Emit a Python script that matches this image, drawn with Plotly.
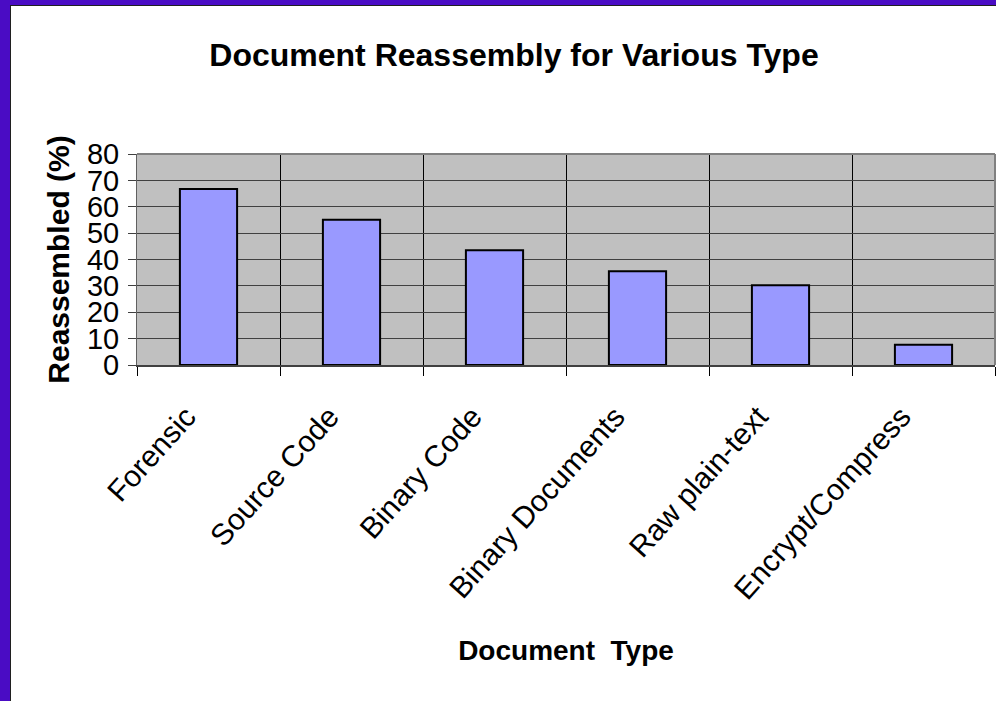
import plotly.graph_objects as go

categories = ["Forensic", "Source Code", "Binary Code", "Binary Documents", "Raw plain-text", "Encrypt/Compress"]
values = [66.7, 55.1, 43.5, 35.5, 30.2, 7.7]
y_ticks = [0, 10, 20, 30, 40, 50, 60, 70, 80]

FONT = "Liberation Sans, Arial, Helvetica, sans-serif"
W, H = 996, 701
L, R, T, B = 137, 1, 154, 336

fig = go.Figure()
fig.add_trace(go.Bar(
    x=categories, y=values, width=0.4,
    marker=dict(color="#9999FF", line=dict(color="black", width=2)),
))

fig.update_layout(
    width=W, height=H,
    margin=dict(l=L, r=R, t=T, b=B, autoexpand=False),
    paper_bgcolor="white", plot_bgcolor="#C0C0C0",
    showlegend=False,
    font=dict(family=FONT, color="black"),
    title=dict(text="<b>Document Reassembly for Various Type</b>",
               font=dict(size=32, family=FONT, color="black"),
               x=514 / W, xanchor="center", y=1 - 55 / H, yanchor="middle"),
)
fig.update_xaxes(
    type="category", range=[-0.5, 5.5], tickson="boundaries",
    showgrid=True, gridcolor="black", gridwidth=1,
    ticks="outside", ticklen=9, tickcolor="black", tickwidth=1,
    showline=True, linecolor="#404040", linewidth=2, mirror=False,
    tickangle=-48, tickfont=dict(size=30, family=FONT, color="black"),
    ticklabelstandoff=20, ticklabelshift=-22,
    title=dict(text="<b>Document  Type</b>", font=dict(size=28, family=FONT, color="black"), standoff=36),
    automargin=False,
)
fig.update_yaxes(
    range=[0, 80], tickvals=y_ticks,
    showgrid=True, gridcolor="#404040", gridwidth=1, zeroline=False,
    ticks="outside", ticklen=8, tickcolor="#404040", tickwidth=1,
    showline=True, linecolor="#606060", linewidth=1,
    tickfont=dict(size=29, family=FONT, color="black"),
    ticklabelstandoff=3,
    title=dict(text="<b>Reassembled (%)</b>", font=dict(size=30, family=FONT, color="black"), standoff=8),
    automargin=False,
)
# plot frame (top and right edges)
fig.add_shape(type="line", xref="paper", yref="paper", x0=0, x1=1, y0=1, y1=1,
              line=dict(color="#808080", width=2))
fig.add_shape(type="line", xref="paper", yref="paper", x0=1, x1=1, y0=0, y1=1,
              line=dict(color="#808080", width=2))

# slide decoration: purple strips on left and top edges
pw, ph = W - L - R, H - T - B
def px(x): return (x - L) / pw
def py(y): return 1 - (y - T) / ph
fig.add_shape(type="rect", xref="paper", yref="paper", x0=px(0), x1=px(10), y0=py(0), y1=py(H),
              line=dict(width=0), fillcolor="#4A0CC4", layer="above")
fig.add_shape(type="rect", xref="paper", yref="paper", x0=px(0), x1=px(W), y0=py(0), y1=py(5),
              line=dict(width=0), fillcolor="#4A0CC4", layer="above")
fig.add_shape(type="line", xref="paper", yref="paper", x0=px(10.5), x1=px(10.5), y0=py(5), y1=py(H),
              line=dict(color="#202020", width=1), layer="above")
fig.add_shape(type="line", xref="paper", yref="paper", x0=px(10), x1=px(W), y0=py(5.5), y1=py(5.5),
              line=dict(color="#202020", width=1), layer="above")

fig.write_html("out.html")
